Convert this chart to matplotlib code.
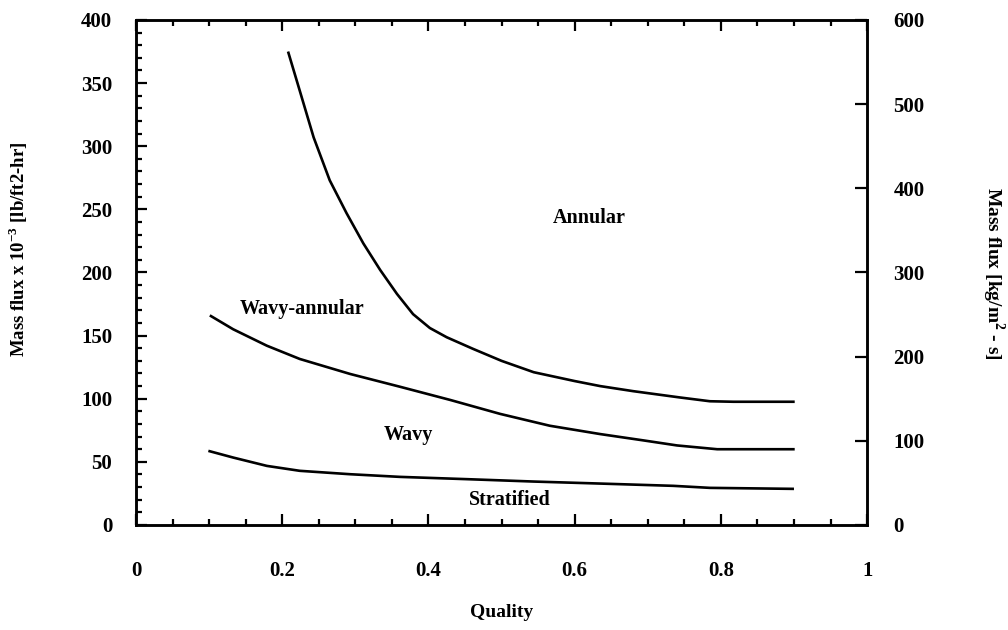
import matplotlib
matplotlib.use("Agg")
import matplotlib.pyplot as plt
from matplotlib.ticker import MultipleLocator

# Flow-regime boundaries: quality vs mass flux (x 10^-3 lb/ft2-hr)
annular_q = [0.208, 0.224, 0.243, 0.265, 0.288, 0.311, 0.334, 0.357, 0.379,
             0.402, 0.425, 0.461, 0.50, 0.544, 0.60, 0.635, 0.68, 0.744,
             0.785, 0.817, 0.901]
annular_g = [375, 344, 307, 273, 247, 223, 202, 183, 167,
             156, 148.7, 139.5, 130, 121, 114, 110, 106, 101,
             98, 97.6, 97.6]

wavy_annular_q = [0.101, 0.133, 0.179, 0.224, 0.293, 0.361, 0.430, 0.498,
                  0.566, 0.635, 0.694, 0.74, 0.795, 0.901]
wavy_annular_g = [166, 155, 142, 131.5, 119.6, 109.5, 99, 88,
                  78.6, 72, 67, 63, 60, 60]

stratified_q = [0.099, 0.133, 0.179, 0.224, 0.293, 0.361, 0.452, 0.544,
                0.635, 0.735, 0.785, 0.9]
stratified_g = [58.7, 53.4, 46.8, 42.9, 40.2, 38.1, 36.3, 34.4,
                32.8, 31, 29.4, 28.6]

region_names = ["Annular", "Wavy-annular", "Wavy", "Stratified"]
region_q = [0.62, 0.227, 0.373, 0.511]
region_g = [243, 171, 71, 20]

x_ticks = [0, 0.2, 0.4, 0.6, 0.8, 1]
x_tick_labels = ["0", "0.2", "0.4", "0.6", "0.8", "1"]

plt.rcParams["font.family"] = ["Liberation Serif", "DejaVu Serif"]
plt.rcParams["mathtext.fontset"] = "custom"
plt.rcParams["mathtext.rm"] = "Liberation Serif"
plt.rcParams["mathtext.bf"] = "Liberation Serif:bold"

fig = plt.figure(figsize=(10.08, 6.3), dpi=100)
ax = fig.add_axes([0.1349, 0.1667, 0.7253, 0.8016])

for q, g in [(annular_q, annular_g), (wavy_annular_q, wavy_annular_g),
             (stratified_q, stratified_g)]:
    ax.plot(q, g, color="black", lw=1.9, solid_capstyle="butt",
            solid_joinstyle="round")

for name, q, g in zip(region_names, region_q, region_g):
    ax.text(q, g, name, ha="center", va="center", fontsize=14.5,
            fontweight="bold")

ax.set_xlim(0, 1)
ax.set_ylim(0, 400)
ax.set_xticks(x_ticks)
ax.set_xticklabels(x_tick_labels)
ax.xaxis.set_minor_locator(MultipleLocator(0.05))
ax.yaxis.set_major_locator(MultipleLocator(50))
ax.yaxis.set_minor_locator(MultipleLocator(10))

for s in ax.spines.values():
    s.set_linewidth(1.8)

ax.tick_params(axis="x", which="both", direction="in", top=True,
               labelsize=15, pad=26, width=1.6)
ax.tick_params(axis="y", which="both", direction="in", right=False,
               labelsize=15, pad=17, width=1.6)
ax.tick_params(which="major", length=8)
ax.tick_params(which="minor", length=4.5)
for lab in ax.get_xticklabels() + ax.get_yticklabels():
    lab.set_fontweight("bold")

ax.set_xlabel("Quality", fontsize=14, fontweight="bold")
ax.xaxis.set_label_coords(0.5, -0.156)
ax.set_ylabel(r"Mass flux x 10$^\mathbf{-3}$ [lb/ft2-hr]", fontsize=13.5,
              fontweight="bold", va="center")
ax.yaxis.set_label_coords(-0.161, 0.546)

ax2 = ax.twinx()
ax2.set_ylim(0, 600)
ax2.yaxis.set_major_locator(MultipleLocator(100))
ax2.tick_params(axis="y", direction="in", length=8.5, width=1.6,
                labelsize=15, pad=19)
for lab in ax2.get_yticklabels():
    lab.set_fontweight("bold")
for s in ax2.spines.values():
    s.set_linewidth(1.8)
ax2.set_ylabel(r"Mass flux [kg/m$^\mathbf{2}$ - s]", fontsize=14,
               fontweight="bold", rotation=270, va="center")
ax2.yaxis.set_label_coords(1.172, 0.498)

fig.savefig("out.png", dpi=100, facecolor="white")
